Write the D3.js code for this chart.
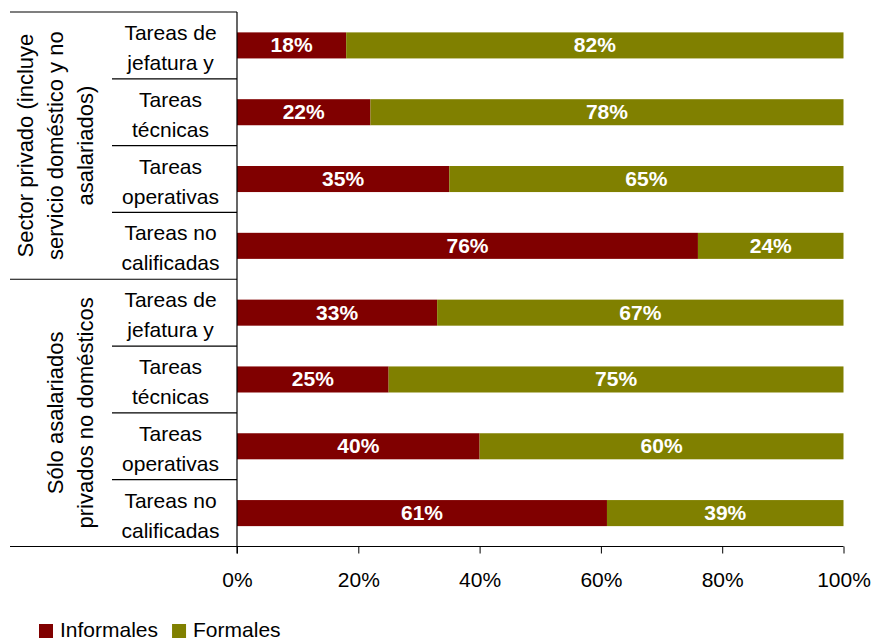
<!DOCTYPE html>
<html>
<head>
<meta charset="utf-8">
<script src="https://cdn.jsdelivr.net/npm/d3@7"></script>
<style>
  html, body { margin: 0; padding: 0; background: #fff; }
  svg { display: block; font-family: "Liberation Sans", Arial, sans-serif; }
</style>
</head>
<body>
<svg id="chart" width="872" height="642"></svg>
<script>
// Groups of workers and their rows (top to bottom)
const groups = [
  ["Sector privado (incluye", "servicio doméstico y no", "asalariados)"],
  ["Sólo asalariados", "privados no domésticos"]
];
const categories = [
  ["Tareas de", "jefatura y"],
  ["Tareas", "técnicas"],
  ["Tareas", "operativas"],
  ["Tareas no", "calificadas"]
];
const informales = [18, 22, 35, 76, 33, 25, 40, 61];
const formales   = [82, 78, 65, 24, 67, 75, 60, 39];
const seriesNames = ["Informales", "Formales"];
const seriesColors = ["#800000", "#808000"];
const xTicks = [0, 20, 40, 60, 80, 100];

const svg = d3.select("#chart");
const plotLeft = 237, plotRight = 843.5, plotTop = 12, plotBottom = 546.5;
const nRows = groups.length * categories.length;
const fs = 21;

const x = d3.scaleLinear().domain([0, 100]).range([plotLeft, plotRight]);
const y = d3.scaleBand().domain(d3.range(nRows)).range([plotTop, plotBottom]).paddingInner(0.61).paddingOuter(0.305);
const rowBand = d3.scaleBand().domain(d3.range(nRows)).range([plotTop, plotBottom]);

// stacked bars with their percentage labels
const rows = d3.range(nRows).map(i => ({ i, vals: [informales[i], formales[i]] }));
rows.forEach(r => {
  let acc = 0;
  r.vals.forEach((v, s) => {
    const x0 = acc, x1 = acc + v;
    acc = x1;
    svg.append("rect")
      .attr("x", x(x0)).attr("y", y(r.i))
      .attr("width", x(x1) - x(x0)).attr("height", y.bandwidth())
      .attr("fill", seriesColors[s]);
    svg.append("text")
      .attr("x", (x(x0) + x(x1)) / 2)
      .attr("y", y(r.i) + y.bandwidth() / 2)
      .attr("dy", "0.33em")
      .attr("text-anchor", "middle")
      .attr("fill", "#fff")
      .attr("font-weight", "bold")
      .attr("font-size", fs)
      .text(v + "%");
  });
});

// x axis
const xAxis = d3.axisBottom(x)
  .tickValues(xTicks)
  .tickSize(7)
  .tickPadding(19)
  .tickFormat(d => d + "%");
const gx = svg.append("g").attr("transform", `translate(0,${plotBottom})`).call(xAxis);
gx.select(".domain").remove();
gx.selectAll(".tick line").attr("stroke", "#000");
gx.selectAll(".tick text").attr("font-size", fs).attr("fill", "#000")
  .attr("font-family", "Liberation Sans, Arial, sans-serif");

const line = (x1, y1, x2, y2) => svg.append("line")
  .attr("x1", x1).attr("y1", y1).attr("x2", x2).attr("y2", y2)
  .attr("stroke", "#000").attr("stroke-width", 1.2);

// horizontal axis line extended under the labels, vertical axis line
line(10, plotBottom, plotRight, plotBottom);
line(plotLeft, plotTop, plotLeft, plotBottom + 7);
line(10, plotTop, plotLeft, plotTop);

// category labels and row separators
const catX = 170.5, labelCol = 112;
d3.range(nRows).forEach(i => {
  const cat = categories[i % categories.length];
  const cy = rowBand(i) + rowBand.bandwidth() / 2 + 2;
  const t = svg.append("text")
    .attr("text-anchor", "middle")
    .attr("font-size", fs)
    .attr("fill", "#000");
  cat.forEach((ln, k) => {
    t.append("tspan").attr("x", catX)
      .attr("y", cy + (k - (cat.length - 1) / 2) * 30)
      .attr("dy", "0.36em")
      .text(ln);
  });
  const yEnd = rowBand(i) + rowBand.bandwidth();
  if (i < nRows - 1) {
    if ((i + 1) % categories.length === 0) line(10, yEnd, plotLeft, yEnd);
    else line(labelCol, yEnd, plotLeft, yEnd);
  }
});

// rotated group labels
groups.forEach((g, gi) => {
  const y0 = rowBand(gi * categories.length);
  const y1 = rowBand((gi + 1) * categories.length - 1) + rowBand.bandwidth();
  const cy = (y0 + y1) / 2;
  g.forEach((ln, k) => {
    const lx = 85 - 30 * (g.length - 1 - k);
    svg.append("text")
      .attr("transform", `translate(${lx},${cy}) rotate(-90)`)
      .attr("text-anchor", "middle")
      .attr("dy", "0.36em")
      .attr("font-size", 22)
      .attr("fill", "#000")
      .text(ln);
  });
});

// legend
const legend = svg.append("g").attr("transform", "translate(39,631)");
let lx = 0;
seriesNames.forEach((n, i) => {
  legend.append("rect").attr("x", lx).attr("y", -7).attr("width", 14).attr("height", 14).attr("fill", seriesColors[i]);
  const t = legend.append("text").attr("x", lx + 21).attr("y", 6)
    .attr("font-size", fs).attr("fill", "#000").text(n);
  lx += 21 + t.node().getComputedTextLength() + 14;
});
</script>
</body>
</html>
